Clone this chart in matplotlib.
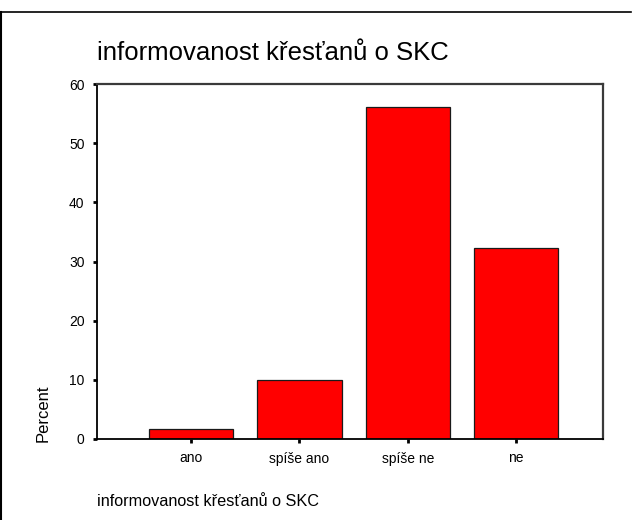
import matplotlib
matplotlib.use("Agg")
import matplotlib.pyplot as plt
from matplotlib.lines import Line2D

plt.rcParams['font.family'] = ['Liberation Sans', 'DejaVu Sans']

categories = ["ano", "spíše ano", "spíše ne", "ne"]
percent = [1.7, 10.0, 56.1, 32.3]
yticks = [0, 10, 20, 30, 40, 50, 60]
title = "informovanost křesťanů o SKC"

fig = plt.figure(figsize=(6.35, 5.2), dpi=100)
fig.patch.set_facecolor("white")

# frame lines along the top and left of the figure
fig.add_artist(Line2D([0.0, 0.993], [1 - 12 / 520, 1 - 12 / 520], transform=fig.transFigure,
                      color="black", lw=1.2))
fig.add_artist(Line2D([0.0015, 0.0015], [0.0, 1 - 12 / 520], transform=fig.transFigure,
                      color="black", lw=1.5))

ax = fig.add_axes([97 / 635, 1 - 439 / 520, (603 - 97) / 635, (439 - 84) / 520])
x = list(range(len(categories)))
ax.bar(x, percent, width=0.776, color="#ff0000", edgecolor="#1a1a1a", linewidth=0.9, zorder=2)

ax.set_xlim(-0.868, 3.80)
ax.set_ylim(0, 60)
ax.set_yticks(yticks)
ax.set_yticklabels([str(t) for t in yticks], fontsize=10)
ax.set_xticks(x)
ax.set_xticklabels(categories, fontsize=10)
ax.tick_params(axis="both", direction="out", length=3, width=2, color="black")
ax.tick_params(axis="y", pad=6)
ax.tick_params(axis="x", pad=6)

for side in ("left", "bottom"):
    ax.spines[side].set_color("black")
    ax.spines[side].set_linewidth(1.3)
for side in ("top", "right"):
    ax.spines[side].set_color("#3a3a3a")
    ax.spines[side].set_linewidth(1.6)

fig.text(97 / 635, 1 - 53 / 520, title, fontsize=18.5, ha="left", va="center")
fig.text(43 / 635, 1 - 413 / 520, "Percent", fontsize=12, rotation=90, ha="center", va="center")
fig.text(97 / 635, 1 - 501 / 520, title, fontsize=11.7, ha="left", va="center")

fig.savefig("out.png", dpi=100, facecolor="white")
